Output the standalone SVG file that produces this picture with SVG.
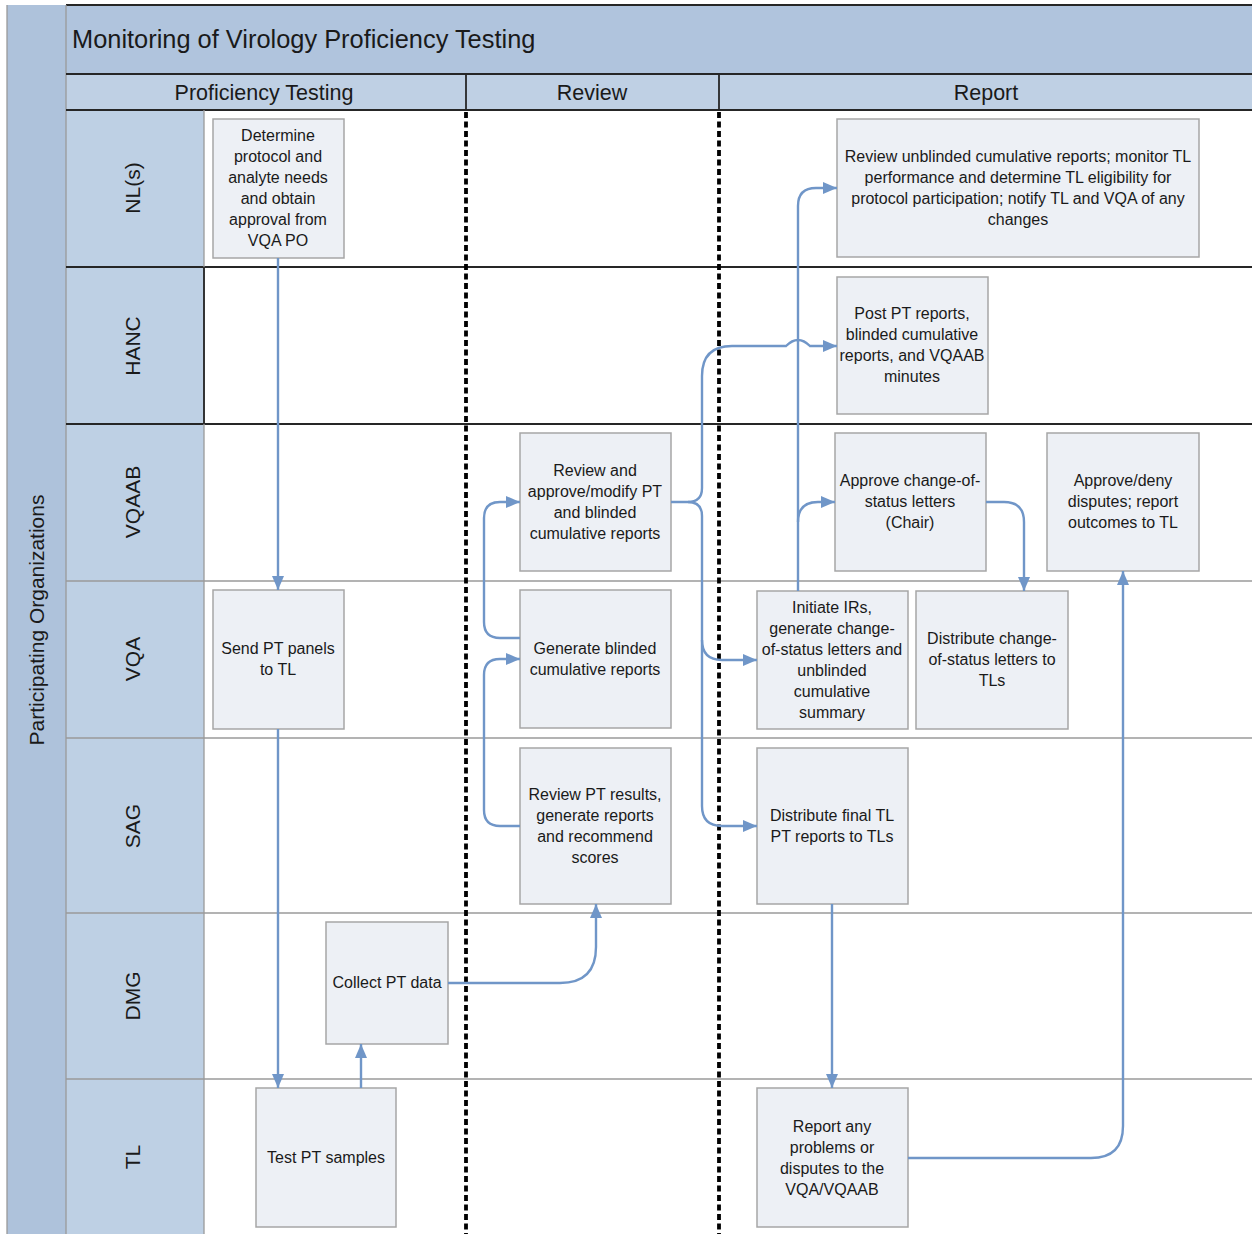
<svg xmlns="http://www.w3.org/2000/svg" width="1252" height="1234" viewBox="0 0 1252 1234">
<style>
.node rect{fill:#edf0f5;stroke:#a6a6a6;stroke-width:1.5}
.node text{font-family:"Liberation Sans",Arial,sans-serif;font-size:16px;fill:#1a1a1a;text-anchor:middle}
.hdr{font-family:"Liberation Sans",Arial,sans-serif;font-size:21.5px;fill:#1a1a1a;text-anchor:middle}
.lane{font-family:"Liberation Sans",Arial,sans-serif;font-size:21px;fill:#1a1a1a;text-anchor:middle}
.conn path{fill:none;stroke:#7096c8;stroke-width:2.4}
.div{stroke:#9a9a9a;stroke-width:1.3}
.dark{stroke:#262626;stroke-width:1.8}
.dot{stroke:#000;stroke-width:3.8;stroke-dasharray:6 3.5}
</style>
<defs>
<marker id="arr" viewBox="0 0 14 12" refX="14" refY="6" markerWidth="14" markerHeight="12" markerUnits="userSpaceOnUse" orient="auto">
<path d="M0,0 L14,6 L0,12 z" fill="#7096c8"/>
</marker>
</defs>
<rect x="0" y="0" width="1252" height="1234" fill="#fff"/>
<!-- bands -->
<rect x="7" y="5" width="59" height="1229" fill="#aec2db"/>
<rect x="66" y="5" width="1186" height="69" fill="#b0c4dd"/>
<rect x="66" y="74" width="1186" height="36" fill="#bfd0e4"/>
<rect x="66" y="110" width="138" height="1124" fill="#bed0e4"/>
<!-- lines -->
<line class="div" x1="7" y1="5" x2="7" y2="1234"/>
<line class="dark" x1="66" y1="5" x2="1252" y2="5"/>
<line class="div" x1="66" y1="5" x2="66" y2="1234"/>
<line class="dark" x1="66" y1="74" x2="1252" y2="74"/>
<line class="dark" x1="66" y1="110" x2="1252" y2="110"/>
<line class="dark" x1="466" y1="74" x2="466" y2="110"/>
<line class="dark" x1="719" y1="74" x2="719" y2="110"/>
<line class="dark" x1="66" y1="267" x2="1252" y2="267"/>
<line class="dark" x1="66" y1="424" x2="1252" y2="424"/>
<line class="div" x1="66" y1="581" x2="1252" y2="581"/>
<line class="div" x1="66" y1="738" x2="1252" y2="738"/>
<line class="div" x1="66" y1="913" x2="1252" y2="913"/>
<line class="div" x1="66" y1="1079" x2="1252" y2="1079"/>
<line class="div" x1="204" y1="110" x2="204" y2="1234"/>
<line class="dark" x1="204" y1="267" x2="204" y2="424"/>
<line class="dot" x1="466" y1="112" x2="466" y2="1234"/>
<line class="dot" x1="719" y1="112" x2="719" y2="1234"/>
<!-- headers -->
<text x="72" y="48" font-family="Liberation Sans, Arial, sans-serif" font-size="25.4" fill="#1a1a1a">Monitoring of Virology Proficiency Testing</text>
<text class="hdr" x="264" y="100">Proficiency Testing</text>
<text class="hdr" x="592" y="100">Review</text>
<text class="hdr" x="986" y="100">Report</text>
<text class="lane" transform="translate(44,620) rotate(-90)">Participating Organizations</text>
<text class="lane" transform="translate(140,188) rotate(-90)">NL(s)</text>
<text class="lane" transform="translate(140,346) rotate(-90)">HANC</text>
<text class="lane" transform="translate(140,502) rotate(-90)">VQAAB</text>
<text class="lane" transform="translate(140,659) rotate(-90)">VQA</text>
<text class="lane" transform="translate(140,826) rotate(-90)">SAG</text>
<text class="lane" transform="translate(140,996) rotate(-90)">DMG</text>
<text class="lane" transform="translate(140,1157) rotate(-90)">TL</text>
<!-- nodes -->
<g id="n1" class="node"><rect x="213" y="119" width="131" height="139"/>
<text x="278" y="141">Determine</text><text x="278" y="162">protocol and</text><text x="278" y="183">analyte needs</text><text x="278" y="204">and obtain</text><text x="278" y="225">approval from</text><text x="278" y="246">VQA PO</text></g>
<g id="n2" class="node"><rect x="837" y="119" width="362" height="138"/>
<text x="1018" y="162">Review unblinded cumulative reports; monitor TL</text><text x="1018" y="183">performance and determine TL eligibility for</text><text x="1018" y="204">protocol participation; notify TL and VQA of any</text><text x="1018" y="225">changes</text></g>
<g id="n3" class="node"><rect x="837" y="277" width="151" height="137"/>
<text x="912" y="319">Post PT reports,</text><text x="912" y="340">blinded cumulative</text><text x="912" y="361">reports, and VQAAB</text><text x="912" y="382">minutes</text></g>
<g id="n4" class="node"><rect x="520" y="433" width="151" height="138"/>
<text x="595" y="476">Review and</text><text x="595" y="497">approve/modify PT</text><text x="595" y="518">and blinded</text><text x="595" y="539">cumulative reports</text></g>
<g id="n5" class="node"><rect x="835" y="433" width="151" height="138"/>
<text x="910" y="486">Approve change-of-</text><text x="910" y="507">status letters</text><text x="910" y="528">(Chair)</text></g>
<g id="n6" class="node"><rect x="1047" y="433" width="152" height="138"/>
<text x="1123" y="486">Approve/deny</text><text x="1123" y="507">disputes; report</text><text x="1123" y="528">outcomes to TL</text></g>
<g id="n7" class="node"><rect x="213" y="590" width="131" height="139"/>
<text x="278" y="654">Send PT panels</text><text x="278" y="675">to TL</text></g>
<g id="n8" class="node"><rect x="520" y="590" width="151" height="138"/>
<text x="595" y="654">Generate blinded</text><text x="595" y="675">cumulative reports</text></g>
<g id="n9" class="node"><rect x="757" y="591" width="151" height="138"/>
<text x="832" y="613">Initiate IRs,</text><text x="832" y="634">generate change-</text><text x="832" y="655">of-status letters and</text><text x="832" y="676">unblinded</text><text x="832" y="697">cumulative</text><text x="832" y="718">summary</text></g>
<g id="n10" class="node"><rect x="916" y="591" width="152" height="138"/>
<text x="992" y="644">Distribute change-</text><text x="992" y="665">of-status letters to</text><text x="992" y="686">TLs</text></g>
<g id="n11" class="node"><rect x="520" y="748" width="151" height="156"/>
<text x="595" y="800">Review PT results,</text><text x="595" y="821">generate reports</text><text x="595" y="842">and recommend</text><text x="595" y="863">scores</text></g>
<g id="n12" class="node"><rect x="757" y="748" width="151" height="156"/>
<text x="832" y="821">Distribute final TL</text><text x="832" y="842">PT reports to TLs</text></g>
<g id="n13" class="node"><rect x="326" y="922" width="122" height="122"/>
<text x="387" y="988">Collect PT data</text></g>
<g id="n14" class="node"><rect x="256" y="1088" width="140" height="139"/>
<text x="326" y="1163">Test PT samples</text></g>
<g id="n15" class="node"><rect x="757" y="1088" width="151" height="139"/>
<text x="832" y="1132">Report any</text><text x="832" y="1153">problems or</text><text x="832" y="1174">disputes to the</text><text x="832" y="1195">VQA/VQAAB</text></g>
<!-- connectors -->
<g id="connectors" class="conn">
<path d="M278,258 V590" marker-end="url(#arr)"/>
<path d="M278,729 V1088" marker-end="url(#arr)"/>
<path d="M361,1088 V1044" marker-end="url(#arr)"/>
<path d="M448,983 H560 Q596,983 596,947 V904" marker-end="url(#arr)"/>
<path d="M520,826 H500 Q484,826 484,810 V675 Q484,659 500,659 H520" marker-end="url(#arr)"/>
<path d="M520,638 H500 Q484,638 484,622 V518 Q484,502 500,502 H520" marker-end="url(#arr)"/>
<path d="M671,502 H688 Q702,502 702,488 V376 Q702,346 732,346 H786 Q798,334 810,346 H837" marker-end="url(#arr)"/>
<path d="M688,502 Q702,502 702,516 V640 Q702,660 722,660 H757" marker-end="url(#arr)"/>
<path d="M702,640 V806 Q702,826 722,826 H757" marker-end="url(#arr)"/>
<path d="M798,591 V206 Q798,188 816,188 H837" marker-end="url(#arr)"/>
<path d="M798,522 Q798,502 818,502 H835" marker-end="url(#arr)"/>
<path d="M986,502 H1004 Q1024,502 1024,522 V591" marker-end="url(#arr)"/>
<path d="M832,904 V1088" marker-end="url(#arr)"/>
<path d="M908,1158 H1091 Q1123,1158 1123,1126 V571" marker-end="url(#arr)"/>
</g>
</svg>
